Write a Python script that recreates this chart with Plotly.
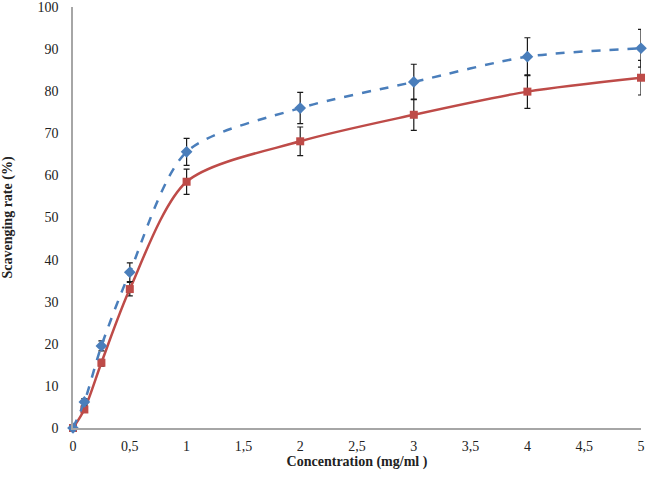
import plotly.graph_objects as go

conc = [0, 0.1, 0.25, 0.5, 1, 2, 3, 4, 5]
blue_vals = [0, 6.2, 19.5, 37.0, 65.6, 76.0, 82.2, 88.2, 90.2]
blue_err = [0.3, 0.8, 1.2, 2.2, 3.2, 3.7, 4.2, 4.5, 4.5]
red_vals = [0, 4.4, 15.5, 33.0, 58.5, 68.1, 74.4, 79.9, 83.2]
red_err = [0.3, 0.6, 0.8, 1.6, 3.0, 3.4, 3.7, 4.0, 4.1]
x_ticks = [0, 0.5, 1, 1.5, 2, 2.5, 3, 3.5, 4, 4.5, 5]
x_ticktext = ["0", "0,5", "1", "1,5", "2", "2,5", "3", "3,5", "4", "4,5", "5"]
y_ticks = list(range(0, 101, 10))

fig = go.Figure()
fig.add_trace(go.Scatter(
    x=conc, y=red_vals, mode="lines+markers",
    line=dict(color="#BE4B48", width=2.5, shape="spline", smoothing=0.8),
    marker=dict(symbol="square", size=8, color="#BE4B48"),
    error_y=dict(type="data", array=red_err, color="#1a1a1a", thickness=1.2, width=3),
    cliponaxis=False, showlegend=False))
fig.add_trace(go.Scatter(
    x=conc, y=blue_vals, mode="lines+markers",
    line=dict(color="#4A7EBB", width=2.5, dash="dash", shape="spline", smoothing=0.8),
    marker=dict(symbol="diamond", size=9, color="#4A7EBB"),
    error_y=dict(type="data", array=blue_err, color="#1a1a1a", thickness=1.2, width=3),
    cliponaxis=False, showlegend=False))

fig.update_layout(
    width=650, height=478,
    margin=dict(l=73, r=9, t=7, b=50, autoexpand=False),
    paper_bgcolor="white", plot_bgcolor="white",
    font=dict(family="Liberation Serif, Times New Roman, serif", size=14, color="#222"),
    xaxis=dict(range=[0, 5], tickvals=x_ticks, ticktext=x_ticktext, automargin=False,
               showgrid=False, zeroline=False, showline=True, linecolor="#A6A6A6",
               linewidth=1.5, ticks="", ticklabelstandoff=4, ticklabeloverflow="allow",
               title=dict(text="<b>Concentration (mg/ml )</b>", standoff=4,
                          font=dict(size=14))),
    yaxis=dict(range=[0, 100], tickvals=y_ticks, automargin=False,
               showgrid=False, zeroline=False, showline=True, linecolor="#A6A6A6",
               linewidth=1.5, ticks="", ticklabelstandoff=10, ticklabeloverflow="allow",
               title=dict(text="<b>Scavenging rate (%)</b>", standoff=24,
                          font=dict(size=14))),
)
fig.write_html("out.html", config={"displayModeBar": False},
               post_script="document.body.style.margin='0';document.body.style.overflow='hidden';")
